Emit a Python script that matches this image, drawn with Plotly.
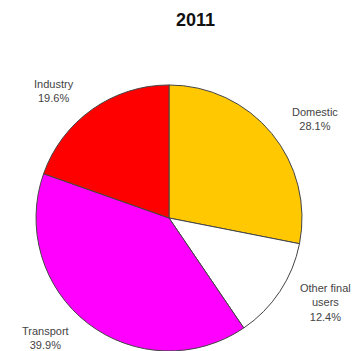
import plotly.graph_objects as go

# Final energy consumption shares by sector, 2011
year = "2011"
sectors = ["Domestic", "Other final<br>users", "Transport", "Industry"]
shares = [28.1, 12.4, 39.9, 19.6]
colors = ["#FFC800", "#FFFFFF", "#FF00FF", "#FF0000"]

# label centre points (paper coordinates) for each sector
label_x = [0.88, 0.908, 0.126, 0.151]
label_y = [0.661, 0.137, 0.037, 0.741]

fig = go.Figure(
    go.Pie(
        labels=sectors,
        values=shares,
        sort=False,
        direction="clockwise",
        rotation=0,
        marker=dict(colors=colors, line=dict(color="#444444", width=1)),
        textinfo="none",
        hoverinfo="label+percent",
        showlegend=False,
        domain=dict(x=[0.1006, 0.8436], y=[0.0, 0.758]),
    )
)

annotations = [
    dict(
        text=f"<b>{year}</b>",
        x=0.545, y=0.943, xref="paper", yref="paper",
        xanchor="center", yanchor="middle",
        showarrow=False, font=dict(family="Liberation Sans, Arial", size=18, color="#111111"),
    )
]
for name, val, lx, ly in zip(sectors, shares, label_x, label_y):
    annotations.append(
        dict(
            text=f"{name}<br>{val:.1f}%",
            x=lx, y=ly, xref="paper", yref="paper",
            xanchor="center", yanchor="middle",
            showarrow=False, align="center",
            font=dict(family="Liberation Sans, Arial", size=11, color="#444444"),
        )
    )

fig.update_layout(
    width=358,
    height=351,
    margin=dict(l=0, r=0, t=0, b=0),
    paper_bgcolor="white",
    plot_bgcolor="white",
    annotations=annotations,
)

fig.write_html("out.html")
